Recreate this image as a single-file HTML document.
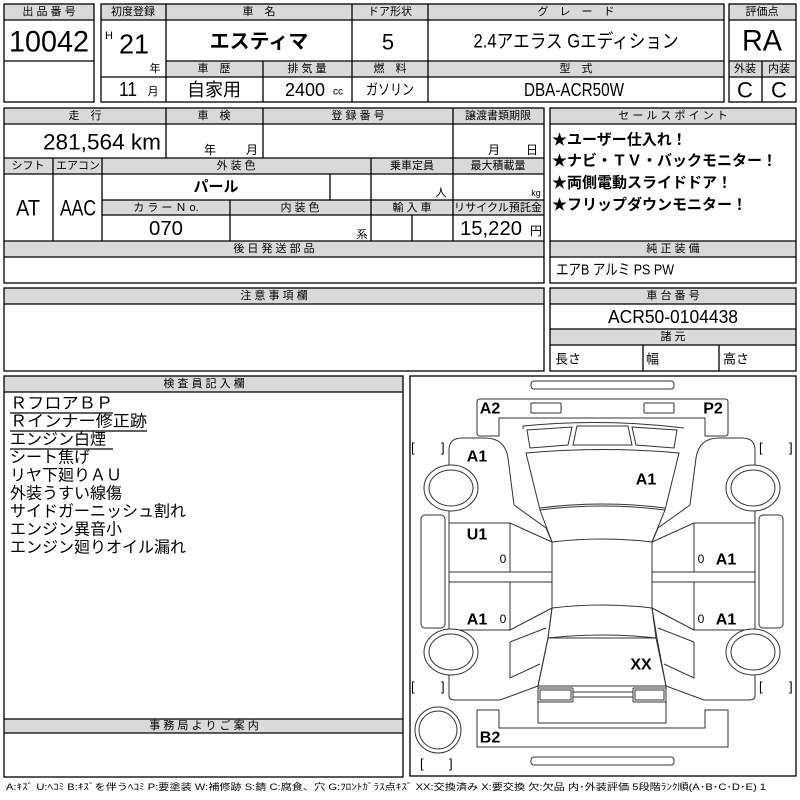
<!DOCTYPE html>
<html><head><meta charset="utf-8"><style>
html,body{margin:0;padding:0;background:#fff;}
svg{display:block;}
text{font-family:"Liberation Sans","Noto Sans CJK JP",sans-serif;fill:#000;}
.h{font-size:11px;text-anchor:middle;dominant-baseline:central;}
.c{text-anchor:middle;dominant-baseline:central;}
.l{dominant-baseline:central;}
.dl{font-size:16px;font-weight:bold;dominant-baseline:central;text-anchor:middle;}
</style></head><body>
<svg width="800" height="800" viewBox="0 0 800 800" xmlns="http://www.w3.org/2000/svg">
<g fill="none" stroke="#000" stroke-width="1.3">
<!-- gray header fills -->
<g fill="#d9d9d9" stroke="none">
<rect x="4" y="4" width="90" height="16"/>
<rect x="101" y="4" width="623" height="16"/>
<rect x="166" y="61" width="558" height="16"/>
<rect x="729" y="4" width="67" height="16"/>
<rect x="729" y="61" width="67" height="16"/>
<rect x="4" y="108" width="540" height="16"/>
<rect x="4" y="158" width="540" height="16"/>
<rect x="102" y="200" width="442" height="15"/>
<rect x="4" y="241" width="540" height="16"/>
<rect x="550" y="108" width="246" height="16"/>
<rect x="550" y="241" width="246" height="16"/>
<rect x="4" y="288" width="540" height="16"/>
<rect x="550" y="288" width="246" height="16"/>
<rect x="550" y="329" width="246" height="16"/>
<rect x="4" y="376" width="399" height="16"/>
<rect x="4" y="719" width="399" height="14"/>
</g>
<!-- top boxes -->
<rect x="4" y="4" width="90" height="98"/>
<path d="M4 20H94M4 61H94"/>
<rect x="101" y="4" width="623" height="98"/>
<path d="M101 20H724M166 61H724M101 77H724M166 4V102M352 4V102M428 4V102M263 61V102"/>
<rect x="729" y="4" width="67" height="98"/>
<path d="M729 20H796M729 61H796M729 77H796M762 61V102"/>
<!-- section 2 -->
<rect x="4" y="108" width="540" height="175"/>
<path d="M4 124H544M4 158H544M4 174H544M102 200H544M102 215H544M4 241H544M4 257H544"/>
<path d="M166 108V158M263 108V158M453 108V158M53 158V241M102 158V241M371 158V241M453 158V241M330 174V200M230 200V241M412 215V241"/>
<rect x="550" y="108" width="246" height="175"/>
<path d="M550 124H796M550 241H796M550 257H796"/>
<!-- section 3 -->
<rect x="4" y="288" width="540" height="83"/>
<path d="M4 304H544"/>
<rect x="550" y="288" width="246" height="83"/>
<path d="M550 304H796M550 329H796M550 345H796M643 345V371M719 345V371"/>
<!-- section 4 -->
<rect x="4" y="376" width="399" height="401"/>
<path d="M4 392H403M4 719H403M4 733H403"/>
<path d="M10 413H113M10 431H147M10 449H113" stroke-width="1.2"/>
<rect x="410" y="376" width="386" height="400"/>
</g>

<!-- top texts -->
<text class="h" x="49" y="12">出 品 番 号</text>
<text class="c" x="49" y="42" font-size="30" textLength="80" lengthAdjust="spacingAndGlyphs">10042</text>
<text class="h" x="133" y="12">初度登録</text>
<text class="h" x="259" y="12">車　名</text>
<text class="h" x="390" y="12">ドア形状</text>
<text class="h" x="576" y="12">グ　レ　ー　ド</text>
<text class="h" x="762" y="12">評価点</text>
<text class="l" x="105" y="36" font-size="11">H</text>
<text class="c" x="134" y="44" font-size="28" textLength="30" lengthAdjust="spacingAndGlyphs">21</text>
<text class="c" x="155" y="69" font-size="11">年</text>
<text class="c" x="128" y="90" font-size="20" textLength="18" lengthAdjust="spacingAndGlyphs">11</text>
<text class="c" x="153" y="92" font-size="11">月</text>
<text class="c" x="259" y="42" font-size="20" font-weight="bold">エスティマ</text>
<text class="c" x="388" y="42" font-size="22">5</text>
<text class="c" x="576" y="42" font-size="19" textLength="205" lengthAdjust="spacingAndGlyphs">2.4アエラス Gエディション</text>
<text class="c" x="762" y="41" font-size="30" textLength="40" lengthAdjust="spacingAndGlyphs">RA</text>
<text class="h" x="214" y="69">車　歴</text>
<text class="h" x="307" y="69">排 気 量</text>
<text class="h" x="390" y="69">燃　料</text>
<text class="h" x="576" y="69">型　式</text>
<text class="h" x="745" y="69">外装</text>
<text class="h" x="779" y="69">内装</text>
<text class="c" x="214" y="90" font-size="18">自家用</text>
<text class="c" x="305" y="90" font-size="18" textLength="40" lengthAdjust="spacingAndGlyphs">2400</text>
<text class="c" x="338" y="92" font-size="10">cc</text>
<text class="c" x="390" y="90" font-size="15" textLength="48" lengthAdjust="spacingAndGlyphs">ガソリン</text>
<text class="c" x="574" y="90" font-size="18" textLength="100" lengthAdjust="spacingAndGlyphs">DBA-ACR50W</text>
<text class="c" x="745" y="90" font-size="22">C</text>
<text class="c" x="779" y="90" font-size="22">C</text>

<!-- section 2 texts -->
<text class="h" x="85" y="116">走　行</text>
<text class="h" x="214" y="116">車　検</text>
<text class="h" x="358" y="116">登 録 番 号</text>
<text class="h" x="498" y="116">譲渡書類期限</text>
<text class="c" x="102" y="142" font-size="22" textLength="118" lengthAdjust="spacingAndGlyphs">281,564 km</text>
<text class="c" x="210" y="150" font-size="12">年</text>
<text class="c" x="252" y="150" font-size="12">月</text>
<text class="c" x="494" y="150" font-size="12">月</text>
<text class="c" x="532" y="150" font-size="12">日</text>
<text class="h" x="28" y="166">シフト</text>
<text class="h" x="78" y="166">エアコン</text>
<text class="h" x="236" y="166">外 装 色</text>
<text class="h" x="412" y="166">乗車定員</text>
<text class="h" x="498" y="166">最大積載量</text>
<text class="c" x="28" y="208" font-size="22" textLength="24" lengthAdjust="spacingAndGlyphs">AT</text>
<text class="c" x="78" y="208" font-size="22" textLength="36" lengthAdjust="spacingAndGlyphs">AAC</text>
<text class="c" x="216" y="187" font-size="15" font-weight="bold">パール</text>
<text class="c" x="441" y="193" font-size="11">人</text>
<text class="c" x="536" y="193" font-size="9">kg</text>
<text class="h" x="166" y="208">カ ラ ー Ｎ o.</text>
<text class="h" x="300" y="208">内 装 色</text>
<text class="h" x="412" y="208">輸 入 車</text>
<text class="h" x="498" y="208" font-size="10" textLength="88" lengthAdjust="spacingAndGlyphs">リサイクル預託金</text>
<text class="c" x="166" y="229" font-size="20" textLength="34" lengthAdjust="spacingAndGlyphs">070</text>
<text class="c" x="362" y="235" font-size="11">系</text>
<text class="c" x="491" y="229" font-size="20" textLength="62" lengthAdjust="spacingAndGlyphs">15,220</text>
<text class="c" x="536" y="231" font-size="12">円</text>
<text class="h" x="274" y="249">後 日 発 送 部 品</text>
<text class="h" x="673" y="116">セ ー ル ス ポ イ ン ト</text>
<g font-size="15" font-weight="bold">
<text class="l" x="552" y="140">★ユーザー仕入れ！</text>
<text class="l" x="552" y="161">★ナビ・ＴＶ・バックモニター！</text>
<text class="l" x="552" y="183">★両側電動スライドドア！</text>
<text class="l" x="552" y="205">★フリップダウンモニター！</text>
</g>
<text class="h" x="673" y="249">純 正 装 備</text>
<text class="l" x="556" y="270" font-size="15" textLength="118" lengthAdjust="spacingAndGlyphs">エアB アルミ PS PW</text>

<!-- section 3 -->
<text class="h" x="274" y="296">注 意 事 項 欄</text>
<text class="h" x="673" y="296">車 台 番 号</text>
<text class="c" x="673" y="317" font-size="18" textLength="130" lengthAdjust="spacingAndGlyphs">ACR50-0104438</text>
<text class="h" x="673" y="337">諸 元</text>
<text class="l" x="555" y="359" font-size="13">長さ</text>
<text class="l" x="646" y="359" font-size="13">幅</text>
<text class="l" x="723" y="359" font-size="13">高さ</text>

<!-- section 4 -->
<text class="h" x="204" y="384">検 査 員 記 入 欄</text>
<g font-size="16">
<text class="l" x="10" y="404" textLength="103" lengthAdjust="spacingAndGlyphs">ＲフロアＢＰ</text>
<text class="l" x="10" y="422" textLength="137" lengthAdjust="spacingAndGlyphs">Ｒインナー修正跡</text>
<text class="l" x="10" y="440">エンジン白煙</text>
<text class="l" x="10" y="458">シート焦げ</text>
<text class="l" x="10" y="476">リヤ下廻りＡＵ</text>
<text class="l" x="10" y="494">外装うすい線傷</text>
<text class="l" x="10" y="512">サイドガーニッシュ割れ</text>
<text class="l" x="10" y="530">エンジン異音小</text>
<text class="l" x="10" y="548">エンジン廻りオイル漏れ</text>
</g>
<text class="h" x="204" y="726">事 務 局 よ り ご 案 内</text>
<text class="l" x="6" y="787" font-size="9" textLength="760" lengthAdjust="spacingAndGlyphs">A:ｷｽﾞ U:ﾍｺﾐ B:ｷｽﾞを伴うﾍｺﾐ P:要塗装 W:補修跡 S:錆 C:腐食、穴 G:ﾌﾛﾝﾄｶﾞﾗｽ点ｷｽﾞ XX:交換済み X:要交換 欠:欠品 内･外装評価 5段階ﾗﾝｸ順(A･B･C･D･E) 1</text>

<!-- diagram -->
<g fill="none" stroke="#333" stroke-width="1">
<rect x="531" y="381" width="143" height="8" rx="3"/>
<path d="M480 399H725Q728 399 728 402V433Q728 436 725 436H705V418H499V436H480Q477 436 477 433V402Q477 399 480 399Z"/>
<rect x="531" y="403" width="30" height="10" rx="1"/>
<rect x="644" y="403" width="30" height="10" rx="1"/>
<path d="M523 426Q602 418 684 428M523 429L523 426"/>
<path d="M527 430L572 427L568 445L530 448Z"/>
<path d="M677 430L632 427L636 445L674 448Z"/>
<path d="M577 426H628L632 445H573Z"/>
<path d="M526 453Q602 446 679 453L665 510Q602 502 540 510Z"/>
<path d="M540 508Q602 500 665 508"/>
<path d="M540 510L552 542Q602 536 652 542L665 510"/>
<path d="M552 542V608M652 542V608"/>
<path d="M552 608Q602 602 652 608L657 638Q602 632 548 638Z"/>
<path d="M548 638L657 638L666 686L538 686Z"/>
<path d="M538 686V723H666V686"/>
<rect x="538" y="688" width="35" height="14" rx="1"/>
<rect x="540" y="690" width="31" height="10"/>
<rect x="633" y="688" width="33" height="14" rx="1"/>
<rect x="635" y="690" width="29" height="10"/>
<path d="M573 692H633M573 697H633"/>
<path d="M477 710H499V728H705V710H728V747H477Z"/>
<rect x="531" y="757" width="143" height="8" rx="3"/>
<circle cx="438" cy="730" r="23"/><circle cx="438" cy="730" r="19"/>
<g id="side">
<path d="M449 523V450Q449 438 462 438H485Q505 438 508 458L514 505L546 528L552 542"/>
<path d="M449 523H510L552 542M510 523V572"/>
<path d="M449 572H552M449 582H552M449 523V630"/>
<path d="M510 582V630L552 608M510 630H449"/>
<path d="M449 630V696Q449 700 455 700H500L538 686L548 638L552 608"/>
<path d="M510 642L546 628M510 642V678L540 664"/>
<rect x="421" y="515" width="24" height="113" rx="4"/>
<ellipse cx="451" cy="488" rx="27" ry="23" fill="#fff"/><ellipse cx="451" cy="488" rx="22" ry="18"/>
<ellipse cx="451" cy="652" rx="27" ry="23" fill="#fff"/><ellipse cx="451" cy="652" rx="22" ry="18"/>
</g>
<use href="#side" transform="translate(1204,0) scale(-1,1)"/>
</g>
<g font-size="13" fill="#000">
<text x="411" y="452">[</text><text x="441" y="452">]</text>
<text x="759" y="452">[</text><text x="789" y="452">]</text>
<text x="411" y="691">[</text><text x="441" y="691">]</text>
<text x="759" y="691">[</text><text x="789" y="691">]</text>
<text x="420" y="768">[</text><text x="449" y="768">]</text>
</g>
<text class="dl" x="490" y="409">A2</text>
<text class="dl" x="713" y="409">P2</text>
<text class="dl" x="477" y="457">A1</text>
<text class="dl" x="646" y="480">A1</text>
<text class="dl" x="477" y="535">U1</text>
<text class="c" x="503" y="559" font-size="12">0</text>
<text class="c" x="701" y="559" font-size="12">0</text>
<text class="dl" x="726" y="560">A1</text>
<text class="dl" x="477" y="620">A1</text>
<text class="c" x="503" y="619" font-size="12">0</text>
<text class="c" x="701" y="619" font-size="12">0</text>
<text class="dl" x="726" y="620">A1</text>
<text class="dl" x="641" y="665">XX</text>
<text class="dl" x="490" y="738">B2</text>
</svg>
</body></html>
